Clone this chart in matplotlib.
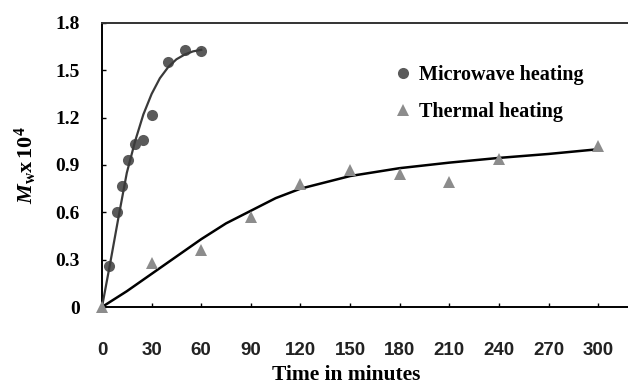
import matplotlib
matplotlib.use('Agg')
import matplotlib.pyplot as plt

# Measured points
mw_time = [4, 9, 12, 16, 20, 25, 30, 40, 50, 60]
mw_mw = [0.26, 0.60, 0.77, 0.93, 1.03, 1.06, 1.22, 1.55, 1.63, 1.62]

th_time = [0, 30, 60, 90, 120, 150, 180, 210, 240, 300]
th_mw = [0.0, 0.28, 0.36, 0.57, 0.78, 0.87, 0.84, 0.79, 0.94, 1.02]

# Trend lines
mw_fit_time = [0, 5, 10, 15, 20, 25, 30, 35, 40, 45, 50, 55, 60]
mw_fit_mw = [0.0, 0.28, 0.57, 0.85, 1.05, 1.22, 1.35, 1.45, 1.52, 1.57, 1.60, 1.62, 1.63]

th_fit_time = [0, 15, 30, 45, 60, 75, 90, 105, 120, 135, 150, 180, 210, 240, 270, 300]
th_fit_mw = [0.0, 0.10, 0.21, 0.32, 0.43, 0.53, 0.61, 0.69, 0.75, 0.79, 0.83, 0.88, 0.915, 0.945, 0.97, 1.0]

x_ticks = list(range(0, 301, 30))
y_ticks = [0, 0.3, 0.6, 0.9, 1.2, 1.5, 1.8]
y_ticklabels = ['0', '0.3', '0.6', '0.9', '1.2', '1.5', '1.8']

plt.rcParams['mathtext.fontset'] = 'custom'
plt.rcParams['mathtext.rm'] = 'Liberation Serif:bold'
plt.rcParams['mathtext.it'] = 'Liberation Serif:italic:bold'

fig = plt.figure(figsize=(6.28, 3.87), dpi=100)
ax = fig.add_axes([0.1624, 0.2067, 0.8376, 0.7339])

# Markers
ax.plot(mw_time, mw_mw, 'o', color='#5a5a5a', markersize=8, markeredgewidth=0,
        label='Microwave heating', zorder=2, clip_on=False)
ax.plot(th_time, th_mw, '^', color='#8c8c8c', markersize=9, markeredgewidth=0,
        label='Thermal heating', zorder=4, clip_on=False)

# Trend lines on top
ax.plot(mw_fit_time, mw_fit_mw, '-', color='#3a3a3a', linewidth=1.6, zorder=3)
ax.plot(th_fit_time, th_fit_mw, '-', color='black', linewidth=1.8, zorder=3)

ax.set_xlim(0, 318)
ax.set_ylim(0, 1.8)
ax.set_xticks(x_ticks)
ax.set_xticklabels([str(t) for t in x_ticks], fontfamily='Liberation Sans',
                   fontweight='bold', fontsize=13.5, color='#222222')
ax.set_yticks(y_ticks)
ax.set_yticklabels(y_ticklabels, fontfamily='Liberation Serif',
                   fontweight='bold', fontsize=14)
ax.tick_params(axis='both', direction='in', length=3, width=1)
ax.tick_params(axis='x', pad=25)
ax.tick_params(axis='y', pad=16)

for side in ['left', 'bottom', 'top']:
    ax.spines[side].set_linewidth(1.4)
ax.spines['top'].set_color('#333333')
ax.spines['right'].set_visible(False)

ax.set_xlabel('Time in minutes', fontfamily='Liberation Serif', fontweight='bold',
              fontsize=15.5)
ax.xaxis.set_label_coords(0.464, -0.205)
ax.set_ylabel(r'$\mathit{M}_{\mathrm{w}}\mathrm{x\,10^4}$', fontsize=16, labelpad=12)

leg = ax.legend(loc='upper left', bbox_to_anchor=(0.527, 0.915), frameon=False,
                handlelength=0.6, handletextpad=0.5, labelspacing=0.85,
                prop={'family': 'Liberation Serif', 'weight': 'bold', 'size': 14.5})

fig.savefig('out.png', dpi=100)
